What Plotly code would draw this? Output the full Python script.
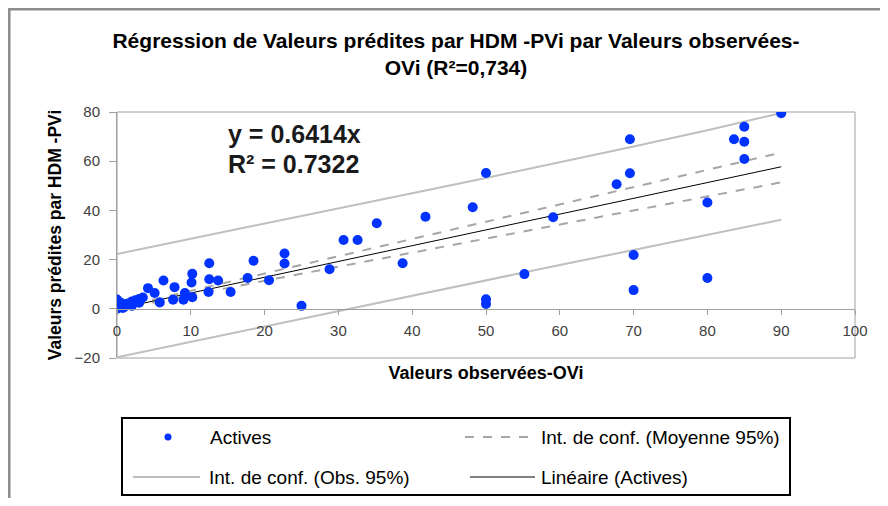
import plotly.graph_objects as go

# ---- data ----
obs_x = [0, 0, 0, 0, 0, 0.3, 0.5, 0.8, 1, 1, 1.5, 2, 2, 2.5, 3, 3, 3.5,
         4.2, 5.1, 5.8, 6.3, 7.6, 7.8, 9.0, 9.2, 10.1, 10.2, 10.2, 12.4, 12.5, 12.5,
         13.7, 15.4, 17.7, 18.5, 20.6, 22.7, 22.7, 25, 28.8, 30.7, 32.6, 35.2, 38.7,
         41.8, 48.2, 50, 50, 50, 55.2, 59.1, 67.7, 69.5, 69.5, 70, 70, 80, 80, 83.6,
         85, 85, 85, 90]
pred_y = [0, 1.2, 2.2, 3.0, 3.8, 0.5, 2.5, 0.3, 0.8, 1.8, 2.2, 1.2, 3.0, 3.5, 2.5, 4.0, 4.6,
          8.4, 6.4, 2.6, 11.5, 3.7, 8.8, 3.7, 6.4, 10.7, 14.2, 4.7, 6.8, 18.5, 12.0,
          11.5, 6.8, 12.5, 19.5, 11.6, 22.5, 18.4, 1.2, 16.1, 28.0, 28.0, 34.8, 18.5,
          37.4, 41.3, 55.2, 3.9, 2.0, 14.1, 37.2, 50.6, 68.9, 55.1, 21.9, 7.6, 43.2, 12.5, 68.9,
          74.0, 67.9, 60.9, 79.5]

fit_x = [0, 90]
fit_y = [0, 57.73]          # y = 0.6414x

ci_x = [0, 10, 20, 30, 40, 50, 60, 70, 80, 90]
mean_up = [0.3, 7.3, 14.3, 21.3, 28.3, 35.3, 42.3, 49.4, 56.4, 63.5]
mean_lo = [-0.3, 5.7, 11.4, 17.1, 22.8, 28.6, 34.3, 40.0, 45.7, 51.4]
obs_up = [22.3, 28.4, 34.6, 40.8, 47.0, 53.2, 59.5, 66.0, 72.6, 79.6]
obs_lo = [-19.7, -13.4, -7.1, -0.8, 5.4, 11.6, 17.8, 23.9, 30.1, 36.2]

x_ticks = [0, 10, 20, 30, 40, 50, 60, 70, 80, 90, 100]
y_ticks = [-20, 0, 20, 40, 60, 80]

FONT = "Liberation Sans Narrow, Arial Narrow, Liberation Sans, Arial, sans-serif"
BLUE = "#0033ff"
GREY = "#bfbfbf"
DGREY = "#a6a6a6"

# The page body has an 8px margin; all geometry below is in screen px
OFF = 8
W, H = 872, 490
PL, PR, PT, PB = 117, 855, 112, 358          # plot area edges on screen
L, T = PL - OFF, PT - OFF
R = W - (PR - OFF)
B = H - (PB - OFF)
PW, PH = W - L - R, H - T - B


def px(xs):
    return (xs - OFF - L) / PW


def py(ys):
    return (H - B - (ys - OFF)) / PH


fig = go.Figure()
fig.add_trace(go.Scatter(x=ci_x, y=obs_up, mode="lines", line=dict(color=GREY, width=2),
                         name="Int. de conf. (Obs. 95%)", showlegend=False))
fig.add_trace(go.Scatter(x=ci_x, y=obs_lo, mode="lines", line=dict(color=GREY, width=2),
                         showlegend=False))
fig.add_trace(go.Scatter(x=ci_x, y=mean_up, mode="lines", line=dict(color=DGREY, width=2, dash="dash"),
                         name="Int. de conf. (Moyenne 95%)", showlegend=False))
fig.add_trace(go.Scatter(x=ci_x, y=mean_lo, mode="lines", line=dict(color=DGREY, width=2, dash="dash"),
                         showlegend=False))
fig.add_trace(go.Scatter(x=fit_x, y=fit_y, mode="lines", line=dict(color="black", width=1),
                         name="Linéaire (Actives)", showlegend=False))
fig.add_trace(go.Scatter(x=obs_x, y=pred_y, mode="markers",
                         marker=dict(color=BLUE, size=10), name="Actives", showlegend=False))

shapes = [
    # outer chart frame (left and top edges visible)
    dict(type="rect", xref="paper", yref="paper", x0=px(9.3), x1=px(1000), y0=py(600), y1=py(9.3),
         line=dict(color="#8c8c8c", width=2.5), layer="below"),
    # plot area frame
    dict(type="rect", xref="paper", yref="paper", x0=0, x1=1, y0=0, y1=1,
         line=dict(color="#a0a0a0", width=1), layer="below"),
    # legend box
    dict(type="rect", xref="paper", yref="paper", x0=px(122), x1=px(790), y0=py(495), y1=py(418),
         line=dict(color="black", width=2)),
    # legend samples
    dict(type="circle", xref="paper", yref="paper", x0=px(164.5), x1=px(171.5), y0=py(440.5), y1=py(433.5),
         fillcolor=BLUE, line=dict(color=BLUE, width=0)),
    dict(type="line", xref="paper", yref="paper", x0=px(465), x1=px(535), y0=py(437), y1=py(437),
         line=dict(color=DGREY, width=2, dash="dash")),
    dict(type="line", xref="paper", yref="paper", x0=px(133), x1=px(200), y0=py(477), y1=py(477),
         line=dict(color=GREY, width=2)),
    dict(type="line", xref="paper", yref="paper", x0=px(470), x1=px(535), y0=py(477), y1=py(477),
         line=dict(color="black", width=1)),
]

leg_font = dict(family=FONT, size=19, color="#000000")
annotations = [
    dict(xref="paper", yref="paper", x=px(226), y=py(134), xanchor="left", yanchor="middle",
         text="<b>y = 0.6414x</b>", showarrow=False, font=dict(family=FONT, size=25, color="#1a1a1a")),
    dict(xref="paper", yref="paper", x=px(226), y=py(164), xanchor="left", yanchor="middle",
         text="<b>R² = 0.7322</b>", showarrow=False, font=dict(family=FONT, size=25, color="#1a1a1a")),
    dict(xref="paper", yref="paper", x=px(208), y=py(437), xanchor="left", yanchor="middle",
         text="Actives", showarrow=False, font=leg_font),
    dict(xref="paper", yref="paper", x=px(539), y=py(437), xanchor="left", yanchor="middle",
         text="Int. de conf. (Moyenne 95%)", showarrow=False, font=leg_font),
    dict(xref="paper", yref="paper", x=px(207), y=py(477), xanchor="left", yanchor="middle",
         text="Int. de conf. (Obs. 95%)", showarrow=False, font=leg_font),
    dict(xref="paper", yref="paper", x=px(539), y=py(477), xanchor="left", yanchor="middle",
         text="Linéaire (Actives)", showarrow=False, font=leg_font),
]

fig.update_layout(
    width=W, height=H,
    margin=dict(l=L, r=R, t=T, b=B, pad=0),
    paper_bgcolor="white", plot_bgcolor="white",
    showlegend=False,
    title=dict(text="<b>Régression de Valeurs prédites par HDM -PVi par Valeurs observées-<br>OVi (R²=0,734)</b>",
               x=px(456), xanchor="center", xref="paper",
               y=1 - 40 / H, yanchor="middle", yref="container",
               font=dict(family=FONT, size=21, color="#000000")),
    xaxis=dict(range=[0, 100], tickvals=x_ticks, anchor="free", position=0.2,
               showline=True, linecolor="#a0a0a0", linewidth=1,
               ticks="outside", ticklen=5, tickcolor="#a0a0a0", ticklabelstandoff=3,
               showgrid=False, zeroline=False,
               tickfont=dict(family=FONT, size=15, color="#404040"),
               title=dict(text="<b>Valeurs observées-OVi</b>", standoff=28,
                          font=dict(family=FONT, size=18, color="#000000"))),
    yaxis=dict(range=[-20, 80], tickvals=y_ticks, domain=[0, 1],
               showline=True, linecolor="#a0a0a0", linewidth=1,
               ticks="outside", ticklen=7, tickcolor="#a0a0a0", ticklabelstandoff=6,
               showgrid=False, zeroline=False,
               tickfont=dict(family=FONT, size=15, color="#404040"),
               title=dict(text="<b>Valeurs prédites par HDM -PVi</b>", standoff=8,
                          font=dict(family=FONT, size=17.5, color="#000000"))),
    shapes=shapes,
    annotations=annotations,
)

fig.write_html("out.html")
